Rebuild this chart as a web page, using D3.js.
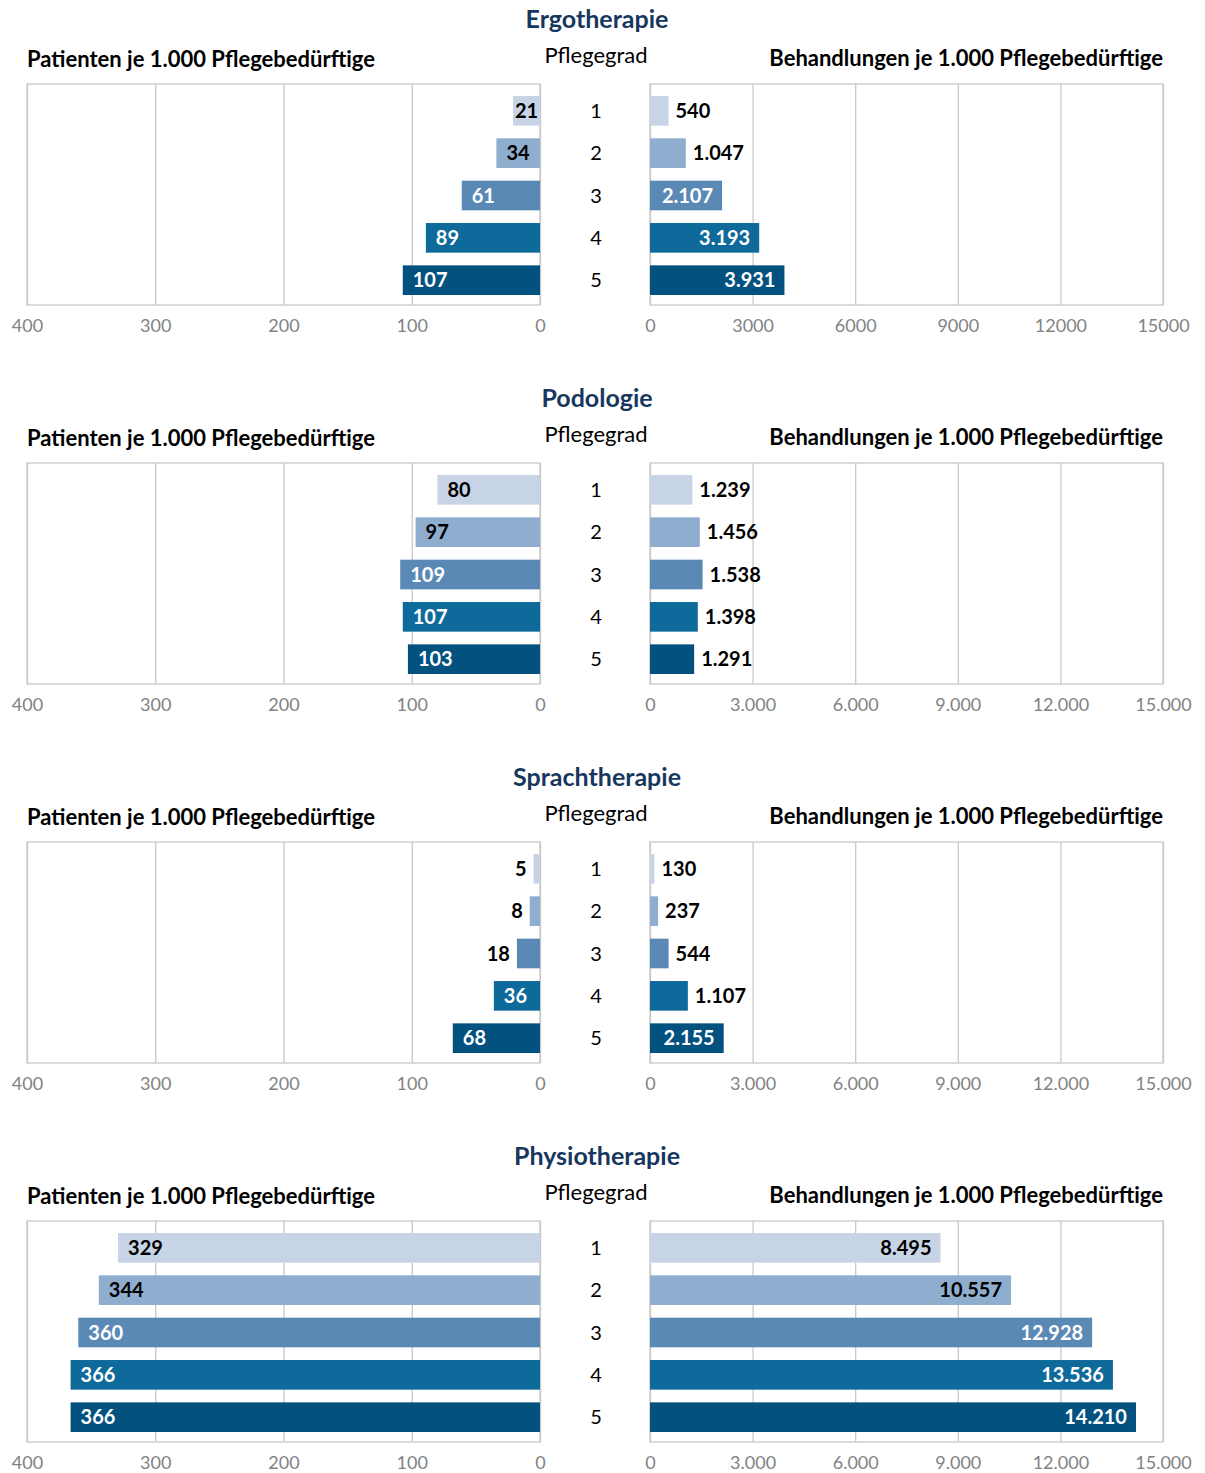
<!DOCTYPE html>
<html>
<head>
<meta charset="utf-8">
<script src="https://cdn.jsdelivr.net/npm/d3@7"></script>
<style>
  body { margin: 0; background: #fff; }
  svg { display: block; font-family: Lato, "Open Sans", sans-serif; }
</style>
</head>
<body>
<svg id="chart" width="1205" height="1473"></svg>
<script>
// Pflegegrad categories and therapy panels
const grades = ["1", "2", "3", "4", "5"];
const therapies = ["Ergotherapie", "Podologie", "Sprachtherapie", "Physiotherapie"];

// Patienten je 1.000 Pflegebedürftige, per Pflegegrad 1–5
const patientsErgo   = [21, 34, 61, 89, 107];
const patientsPodo   = [80, 97, 109, 107, 103];
const patientsSprach = [5, 8, 18, 36, 68];
const patientsPhysio = [329, 344, 360, 366, 366];

// Behandlungen je 1.000 Pflegebedürftige, per Pflegegrad 1–5
const treatmentsErgo   = [540, 1047, 2107, 3193, 3931];
const treatmentsPodo   = [1239, 1456, 1538, 1398, 1291];
const treatmentsSprach = [130, 237, 544, 1107, 2155];
const treatmentsPhysio = [8495, 10557, 12928, 13536, 14210];

// Axis ticks and their labels
const patientTicks = [400, 300, 200, 100, 0];
const treatmentTicks = [0, 3000, 6000, 9000, 12000, 15000];
const treatmentTickLabelsPlain  = ["0", "3000", "6000", "9000", "12000", "15000"];
const treatmentTickLabelsDotted = ["0", "3.000", "6.000", "9.000", "12.000", "15.000"];

const patientsByTherapy   = [patientsErgo, patientsPodo, patientsSprach, patientsPhysio];
const treatmentsByTherapy = [treatmentsErgo, treatmentsPodo, treatmentsSprach, treatmentsPhysio];
const treatmentLabelsByTherapy = [treatmentTickLabelsPlain, treatmentTickLabelsDotted,
                                  treatmentTickLabelsDotted, treatmentTickLabelsDotted];

// Styling
const gradeColors = ["#C6D4E6", "#8FADCE", "#5B89B5", "#0F6A9C", "#02517F"];
const darkTextOnBar = [true, true, false, false, false];
const gridColor = "#C8C8C8";
const tickColor = "#828282";
const titleColor = "#17375E";

const de = d3.formatLocale({ decimal: ",", thousands: ".", grouping: [3], currency: ["", " €"] });
const fmt = de.format(",d");

const svg = d3.select("#chart");

// Layout
const panelStep = 379;
const leftX0 = 27, leftX1 = 540;
const rightX0 = 650, rightX1 = 1163;
const centerX = 596;
const plotTop = 84, plotBottom = 305;

const xLeft = d3.scaleLinear().domain([400, 0]).range([leftX0, leftX1]);
const xRight = d3.scaleLinear().domain([0, 15000]).range([rightX0, rightX1]);

therapies.forEach((name, i) => {
  const off = i * panelStep;
  const g = svg.append("g").attr("transform", `translate(0,${off})`);

  const y = d3.scaleBand().domain(grades)
    .range([plotTop + 12, plotTop + 211])
    .paddingInner(0.3).paddingOuter(0);

  // Titles and headers
  g.append("text").attr("x", centerX + 1).attr("y", 28)
    .attr("text-anchor", "middle").attr("font-weight", 700)
    .attr("font-size", 25).attr("fill", titleColor).text(name);

  g.append("text").attr("x", leftX0).attr("y", 67)
    .attr("font-weight", 700).attr("font-size", 22).attr("fill", "#000")
    .text("Patienten je 1.000 Pflegebedürftige");

  g.append("text").attr("x", rightX1).attr("y", 66)
    .attr("text-anchor", "end")
    .attr("font-weight", 700).attr("font-size", 22).attr("fill", "#000")
    .text("Behandlungen je 1.000 Pflegebedürftige");

  g.append("text").attr("x", centerX).attr("y", 63)
    .attr("text-anchor", "middle").attr("font-size", 22).attr("fill", "#000")
    .text("Pflegegrad");

  // Gridlines + tick labels (left)
  const gridL = g.append("g").attr("transform", `translate(0,${plotBottom})`)
    .call(d3.axisBottom(xLeft).tickValues(patientTicks)
      .tickSize(-(plotBottom - plotTop)).tickPadding(14).tickFormat(d3.format("d")));
  gridL.select(".domain").remove();
  gridL.selectAll(".tick line").attr("stroke", gridColor).attr("stroke-width", 1.3);
  gridL.selectAll(".tick text").attr("font-size", 18).attr("fill", tickColor)
    .attr("font-family", "Lato, sans-serif");

  g.append("rect").attr("x", leftX0).attr("y", plotTop)
    .attr("width", leftX1 - leftX0).attr("height", plotBottom - plotTop)
    .attr("fill", "none").attr("stroke", gridColor).attr("stroke-width", 1.3);

  // Gridlines + tick labels (right)
  const rLabels = treatmentLabelsByTherapy[i];
  const gridR = g.append("g").attr("transform", `translate(0,${plotBottom})`)
    .call(d3.axisBottom(xRight).tickValues(treatmentTicks)
      .tickSize(-(plotBottom - plotTop)).tickPadding(14)
      .tickFormat((d, k) => rLabels[k]));
  gridR.select(".domain").remove();
  gridR.selectAll(".tick line").attr("stroke", gridColor).attr("stroke-width", 1.3);
  gridR.selectAll(".tick text").attr("font-size", 18).attr("fill", tickColor)
    .attr("font-family", "Lato, sans-serif");

  g.append("rect").attr("x", rightX0).attr("y", plotTop)
    .attr("width", rightX1 - rightX0).attr("height", plotBottom - plotTop)
    .attr("fill", "none").attr("stroke", gridColor).attr("stroke-width", 1.3);

  const patients = patientsByTherapy[i];
  const treatments = treatmentsByTherapy[i];

  // Bars: patients (grow to the left)
  g.append("g").selectAll("rect").data(patients).join("rect")
    .attr("x", d => xLeft(d)).attr("y", (d, k) => y(grades[k]))
    .attr("width", d => xLeft(0) - xLeft(d)).attr("height", y.bandwidth())
    .attr("fill", (d, k) => gradeColors[k]);

  // Bars: treatments (grow to the right)
  g.append("g").selectAll("rect").data(treatments).join("rect")
    .attr("x", xRight(0)).attr("y", (d, k) => y(grades[k]))
    .attr("width", d => xRight(d) - xRight(0)).attr("height", y.bandwidth())
    .attr("fill", (d, k) => gradeColors[k]);

  // Pflegegrad labels
  g.append("g").selectAll("text").data(grades).join("text")
    .attr("x", centerX).attr("y", d => y(d) + y.bandwidth() / 2 + 7)
    .attr("text-anchor", "middle").attr("font-size", 20).attr("fill", "#000")
    .text(d => d);

  // Value labels, inside the bar end when they fit, otherwise outside
  const labelG = g.append("g").attr("font-weight", 700).attr("font-size", 20);

  patients.forEach((v, k) => {
    const t = labelG.append("text").attr("y", y(grades[k]) + y.bandwidth() / 2 + 7).text(fmt(v));
    const tw = t.node().getComputedTextLength();
    const barW = xLeft(0) - xLeft(v);
    if (barW >= tw + 1) {
      const pad = Math.min(10, Math.max(1, (barW - tw) / 2));
      t.attr("x", xLeft(v) + pad).attr("text-anchor", "start")
        .attr("fill", darkTextOnBar[k] ? "#000" : "#fff");
    } else {
      t.attr("x", xLeft(v) - 7).attr("text-anchor", "end").attr("fill", "#000");
    }
  });

  treatments.forEach((v, k) => {
    const t = labelG.append("text").attr("y", y(grades[k]) + y.bandwidth() / 2 + 7).text(fmt(v));
    const tw = t.node().getComputedTextLength();
    const barW = xRight(v) - xRight(0);
    if (barW >= tw + 4) {
      const pad = Math.min(9, (barW - tw) / 2);
      t.attr("x", xRight(v) - pad).attr("text-anchor", "end")
        .attr("fill", darkTextOnBar[k] ? "#000" : "#fff");
    } else {
      t.attr("x", xRight(v) + 7).attr("text-anchor", "start").attr("fill", "#000");
    }
  });
});
</script>
</body>
</html>
